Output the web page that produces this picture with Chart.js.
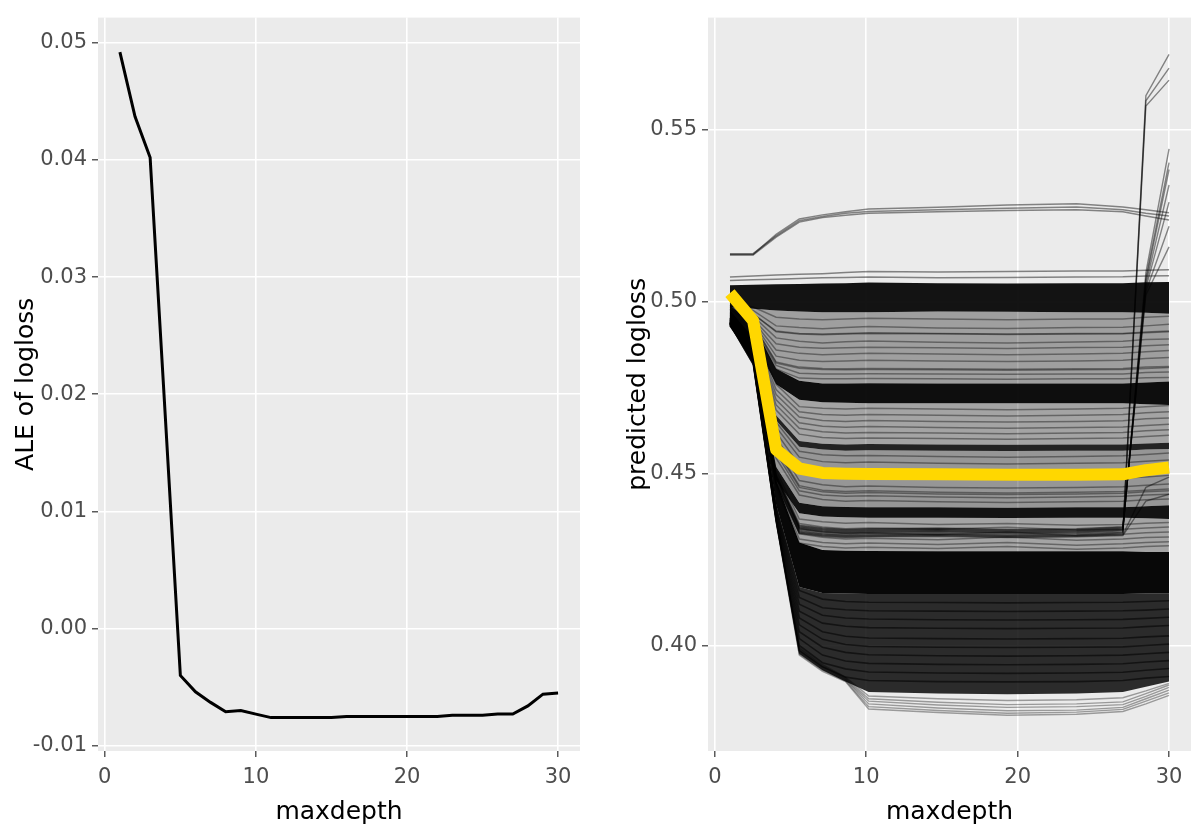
<!DOCTYPE html>
<html>
<head>
<meta charset="utf-8">
<script src="https://cdn.jsdelivr.net/npm/chart.js@4.4.1/dist/chart.umd.min.js"></script>
<style>
  html, body { margin: 0; padding: 0; background: #ffffff; }
  #wrap { position: relative; width: 1191px; height: 827px; }
  canvas { position: absolute; top: 0; }
  #aleChart { left: 0; }
  #iceChart { left: 590px; }
</style>
</head>
<body>
<div id="wrap">
  <canvas id="aleChart" width="590" height="827"></canvas>
  <canvas id="iceChart" width="601" height="827"></canvas>
</div>
<script>
// ALE panel (left)
const aleX = [1, 2, 3, 4, 5, 6, 7, 8, 9, 10, 11, 12, 13, 14, 15, 16, 17, 18, 19, 20, 21, 22, 23, 24, 25, 26, 27, 28, 29, 30];
const aleY = [0.0492, 0.0437, 0.0402, 0.0182, -0.0040, -0.0054, -0.0063, -0.0071, -0.0070, -0.0073,
              -0.0076, -0.0076, -0.0076, -0.0076, -0.0076, -0.0075, -0.0075, -0.0075, -0.0075, -0.0075,
              -0.0075, -0.0075, -0.0074, -0.0074, -0.0074, -0.0073, -0.0073, -0.0066, -0.0056, -0.0055];
const aleXTicks = [0, 10, 20, 30];
const aleYTicks = [-0.01, 0.00, 0.01, 0.02, 0.03, 0.04, 0.05];

// ICE panel (right): grid of maxdepth values
const iceX = [1, 2.53, 4.05, 5.58, 7.11, 8.63, 10.16, 14.74, 19.32, 23.89, 26.95, 28.47, 30];
const iceXTicks = [0, 10, 20, 30];
const iceYTicks = [0.40, 0.45, 0.50, 0.55];

// average curve (yellow)
const iceMean = [0.5025, 0.4945, 0.4570, 0.4515, 0.4502, 0.4500, 0.4499, 0.4498, 0.4497, 0.4497, 0.4498, 0.4510, 0.4518];

// dense black bands: upper and lower edge of each bundle of curves
const bandAUpper = [0.5048, 0.5050, 0.5051, 0.5052, 0.5053, 0.5054, 0.5056, 0.5054, 0.5053, 0.5054, 0.5054, 0.5057, 0.5058];
const bandALower = [0.4985, 0.4980, 0.4975, 0.4972, 0.4970, 0.4970, 0.4970, 0.4972, 0.4971, 0.4970, 0.4970, 0.4968, 0.4965];
const bandBUpper = [0.4990, 0.4935, 0.4805, 0.4770, 0.4762, 0.4762, 0.4763, 0.4762, 0.4762, 0.4762, 0.4762, 0.4765, 0.4768];
const bandBLower = [0.4960, 0.4890, 0.4760, 0.4715, 0.4708, 0.4706, 0.4705, 0.4705, 0.4705, 0.4705, 0.4705, 0.4702, 0.4700];
const bandCUpper = [0.4960, 0.4890, 0.4670, 0.4595, 0.4587, 0.4585, 0.4586, 0.4585, 0.4584, 0.4585, 0.4585, 0.4588, 0.4590];
const bandCLower = [0.4955, 0.4882, 0.4655, 0.4578, 0.4570, 0.4567, 0.4568, 0.4567, 0.4566, 0.4567, 0.4567, 0.4570, 0.4572];
const bandDUpper = [0.4970, 0.4870, 0.4520, 0.4415, 0.4405, 0.4403, 0.4402, 0.4402, 0.4401, 0.4402, 0.4402, 0.4405, 0.4408];
const bandDLower = [0.4940, 0.4840, 0.4480, 0.4385, 0.4375, 0.4373, 0.4372, 0.4372, 0.4371, 0.4372, 0.4372, 0.4370, 0.4368];
const bandEUpper = [0.4975, 0.4895, 0.4480, 0.4300, 0.4278, 0.4276, 0.4275, 0.4274, 0.4274, 0.4274, 0.4274, 0.4272, 0.4272];
const bandEMid   = [0.4955, 0.4860, 0.4410, 0.4170, 0.4153, 0.4151, 0.4150, 0.4150, 0.4150, 0.4150, 0.4150, 0.4151, 0.4152];
const bandELower = [0.4930, 0.4815, 0.4355, 0.3975, 0.3928, 0.3895, 0.3865, 0.3860, 0.3858, 0.3860, 0.3865, 0.3880, 0.3895];

// outlying curves at the top
const iceTopLines = [
  [0.5138, 0.5138, 0.5196, 0.5241, 0.5253, 0.5262, 0.5270, 0.5275, 0.5282, 0.5285, 0.5276, 0.5268, 0.5259],
  [0.5136, 0.5136, 0.5188, 0.5232, 0.5245, 0.5252, 0.5258, 0.5262, 0.5266, 0.5268, 0.5262, 0.5250, 0.5238],
  [0.5140, 0.5140, 0.5192, 0.5236, 0.5248, 0.5258, 0.5263, 0.5268, 0.5272, 0.5276, 0.5268, 0.5258, 0.5250],
  [0.5072, 0.5075, 0.5078, 0.5080, 0.5082, 0.5085, 0.5088, 0.5087, 0.5088, 0.5090, 0.5090, 0.5092, 0.5093],
  [0.5062, 0.5064, 0.5066, 0.5068, 0.5070, 0.5071, 0.5072, 0.5070, 0.5071, 0.5072, 0.5073, 0.5075, 0.5076]
];

// single translucent curves between the bands
const iceGrayLines = [
  [0.5000, 0.4985, 0.4955, 0.4950, 0.4948, 0.4950, 0.4952, 0.4950, 0.4948, 0.4950, 0.4950, 0.4955, 0.4958],
  [0.4995, 0.4975, 0.4930, 0.4925, 0.4922, 0.4925, 0.4928, 0.4924, 0.4922, 0.4925, 0.4926, 0.4930, 0.4935],
  [0.4990, 0.4965, 0.4915, 0.4908, 0.4906, 0.4908, 0.4910, 0.4908, 0.4906, 0.4908, 0.4908, 0.4912, 0.4915],
  [0.4990, 0.4965, 0.4913, 0.4906, 0.4904, 0.4906, 0.4908, 0.4907, 0.4905, 0.4906, 0.4907, 0.4910, 0.4913],
  [0.4988, 0.4958, 0.4895, 0.4885, 0.4880, 0.4884, 0.4886, 0.4882, 0.4880, 0.4883, 0.4885, 0.4890, 0.4892],
  [0.4985, 0.4950, 0.4878, 0.4868, 0.4865, 0.4866, 0.4868, 0.4866, 0.4864, 0.4867, 0.4868, 0.4872, 0.4875],
  [0.4983, 0.4945, 0.4860, 0.4850, 0.4846, 0.4848, 0.4850, 0.4848, 0.4846, 0.4848, 0.4850, 0.4855, 0.4858],
  [0.4980, 0.4940, 0.4842, 0.4830, 0.4826, 0.4828, 0.4830, 0.4828, 0.4826, 0.4828, 0.4830, 0.4835, 0.4838],
  [0.4978, 0.4935, 0.4825, 0.4810, 0.4806, 0.4805, 0.4806, 0.4805, 0.4804, 0.4805, 0.4806, 0.4810, 0.4812],
  [0.4978, 0.4934, 0.4822, 0.4807, 0.4803, 0.4802, 0.4803, 0.4802, 0.4801, 0.4802, 0.4803, 0.4806, 0.4809],
  [0.4975, 0.4930, 0.4815, 0.4792, 0.4790, 0.4790, 0.4791, 0.4790, 0.4789, 0.4790, 0.4790, 0.4794, 0.4796],
  [0.4972, 0.4925, 0.4805, 0.4778, 0.4776, 0.4776, 0.4777, 0.4776, 0.4775, 0.4776, 0.4776, 0.4779, 0.4780],
  [0.4970, 0.4920, 0.4760, 0.4695, 0.4690, 0.4688, 0.4690, 0.4688, 0.4686, 0.4688, 0.4690, 0.4695, 0.4698],
  [0.4968, 0.4915, 0.4745, 0.4680, 0.4672, 0.4670, 0.4672, 0.4670, 0.4668, 0.4670, 0.4672, 0.4677, 0.4680],
  [0.4966, 0.4910, 0.4730, 0.4665, 0.4655, 0.4652, 0.4655, 0.4652, 0.4650, 0.4652, 0.4654, 0.4660, 0.4662],
  [0.4964, 0.4905, 0.4715, 0.4648, 0.4638, 0.4635, 0.4637, 0.4634, 0.4632, 0.4634, 0.4636, 0.4640, 0.4644],
  [0.4962, 0.4900, 0.4700, 0.4632, 0.4622, 0.4618, 0.4620, 0.4618, 0.4616, 0.4618, 0.4620, 0.4625, 0.4628],
  [0.4960, 0.4895, 0.4685, 0.4615, 0.4605, 0.4602, 0.4604, 0.4602, 0.4600, 0.4602, 0.4604, 0.4608, 0.4612],
  [0.4958, 0.4885, 0.4650, 0.4565, 0.4555, 0.4552, 0.4553, 0.4550, 0.4548, 0.4550, 0.4552, 0.4556, 0.4560],
  [0.4955, 0.4880, 0.4635, 0.4548, 0.4535, 0.4532, 0.4534, 0.4530, 0.4528, 0.4530, 0.4532, 0.4536, 0.4540],
  [0.4952, 0.4875, 0.4620, 0.4525, 0.4512, 0.4508, 0.4510, 0.4506, 0.4504, 0.4506, 0.4508, 0.4512, 0.4515],
  [0.4950, 0.4870, 0.4605, 0.4502, 0.4490, 0.4486, 0.4488, 0.4485, 0.4483, 0.4485, 0.4487, 0.4490, 0.4495],
  [0.4948, 0.4865, 0.4590, 0.4480, 0.4468, 0.4462, 0.4464, 0.4460, 0.4458, 0.4460, 0.4462, 0.4466, 0.4470],
  [0.4946, 0.4862, 0.4575, 0.4465, 0.4452, 0.4448, 0.4450, 0.4446, 0.4444, 0.4446, 0.4448, 0.4452, 0.4455],
  [0.4945, 0.4860, 0.4570, 0.4460, 0.4447, 0.4443, 0.4445, 0.4441, 0.4439, 0.4441, 0.4443, 0.4447, 0.4450],
  [0.4944, 0.4858, 0.4560, 0.4450, 0.4438, 0.4434, 0.4436, 0.4432, 0.4430, 0.4432, 0.4434, 0.4438, 0.4440],
  [0.4942, 0.4855, 0.4545, 0.4438, 0.4425, 0.4420, 0.4422, 0.4418, 0.4416, 0.4418, 0.4420, 0.4424, 0.4426],
  [0.4940, 0.4850, 0.4510, 0.4368, 0.4360, 0.4356, 0.4358, 0.4352, 0.4355, 0.4350, 0.4352, 0.4356, 0.4358],
  [0.4938, 0.4846, 0.4500, 0.4355, 0.4345, 0.4340, 0.4342, 0.4338, 0.4344, 0.4336, 0.4338, 0.4342, 0.4345],
  [0.4936, 0.4842, 0.4490, 0.4340, 0.4330, 0.4326, 0.4328, 0.4322, 0.4330, 0.4320, 0.4324, 0.4328, 0.4330],
  [0.4934, 0.4838, 0.4480, 0.4325, 0.4315, 0.4310, 0.4312, 0.4308, 0.4316, 0.4306, 0.4310, 0.4314, 0.4316],
  [0.4932, 0.4834, 0.4470, 0.4310, 0.4300, 0.4296, 0.4298, 0.4294, 0.4300, 0.4292, 0.4296, 0.4300, 0.4302],
  [0.4930, 0.4830, 0.4460, 0.4298, 0.4288, 0.4284, 0.4286, 0.4282, 0.4288, 0.4280, 0.4284, 0.4288, 0.4290]
];

// curves that jump up at the right end
const iceJumpLines = [
  [0.4932, 0.4836, 0.4475, 0.4330, 0.4322, 0.4318, 0.4320, 0.4322, 0.4318, 0.4320, 0.4325, 0.5600, 0.5720],
  [0.4934, 0.4838, 0.4480, 0.4335, 0.4326, 0.4322, 0.4325, 0.4326, 0.4322, 0.4325, 0.4330, 0.5585, 0.5680],
  [0.4933, 0.4837, 0.4478, 0.4332, 0.4324, 0.4320, 0.4322, 0.4324, 0.4320, 0.4322, 0.4328, 0.5570, 0.5645],
  [0.4936, 0.4840, 0.4485, 0.4338, 0.4330, 0.4326, 0.4328, 0.4330, 0.4326, 0.4328, 0.4334, 0.5085, 0.5445],
  [0.4936, 0.4841, 0.4487, 0.4340, 0.4332, 0.4328, 0.4330, 0.4332, 0.4328, 0.4330, 0.4336, 0.5070, 0.5405],
  [0.4937, 0.4842, 0.4489, 0.4342, 0.4334, 0.4330, 0.4332, 0.4334, 0.4330, 0.4332, 0.4338, 0.5060, 0.5385],
  [0.4938, 0.4843, 0.4491, 0.4344, 0.4336, 0.4332, 0.4334, 0.4336, 0.4332, 0.4334, 0.4340, 0.5050, 0.5340],
  [0.4938, 0.4844, 0.4493, 0.4346, 0.4338, 0.4334, 0.4336, 0.4338, 0.4334, 0.4336, 0.4342, 0.5040, 0.5290],
  [0.4939, 0.4845, 0.4495, 0.4348, 0.4340, 0.4336, 0.4338, 0.4340, 0.4336, 0.4338, 0.4344, 0.5030, 0.5220],
  [0.4940, 0.4846, 0.4497, 0.4350, 0.4342, 0.4338, 0.4340, 0.4342, 0.4338, 0.4340, 0.4346, 0.5020, 0.5160],
  [0.4931, 0.4835, 0.4472, 0.4328, 0.4320, 0.4316, 0.4318, 0.4320, 0.4316, 0.4318, 0.4322, 0.4460, 0.4490],
  [0.4930, 0.4834, 0.4470, 0.4326, 0.4318, 0.4314, 0.4316, 0.4318, 0.4314, 0.4316, 0.4320, 0.4420, 0.4440]
];

// darker streaks inside the big lower band
const iceDarkLines = [
  [0.4954, 0.4858, 0.4405, 0.4160, 0.4135, 0.4128, 0.4126, 0.4125, 0.4124, 0.4125, 0.4126, 0.4128, 0.4130],
  [0.4952, 0.4855, 0.4400, 0.4140, 0.4110, 0.4104, 0.4101, 0.4100, 0.4099, 0.4100, 0.4101, 0.4103, 0.4106],
  [0.4950, 0.4852, 0.4395, 0.4120, 0.4088, 0.4080, 0.4077, 0.4075, 0.4074, 0.4075, 0.4076, 0.4079, 0.4082],
  [0.4948, 0.4848, 0.4390, 0.4100, 0.4065, 0.4056, 0.4052, 0.4050, 0.4049, 0.4050, 0.4051, 0.4055, 0.4058],
  [0.4946, 0.4844, 0.4385, 0.4080, 0.4040, 0.4027, 0.4022, 0.4020, 0.4019, 0.4020, 0.4021, 0.4025, 0.4028],
  [0.4944, 0.4840, 0.4380, 0.4060, 0.4018, 0.4003, 0.3997, 0.3995, 0.3994, 0.3995, 0.3996, 0.4000, 0.4004],
  [0.4942, 0.4836, 0.4375, 0.4040, 0.3995, 0.3980, 0.3973, 0.3970, 0.3969, 0.3970, 0.3972, 0.3976, 0.3980],
  [0.4940, 0.4832, 0.4370, 0.4020, 0.3972, 0.3955, 0.3948, 0.3945, 0.3944, 0.3945, 0.3947, 0.3952, 0.3956],
  [0.4938, 0.4828, 0.4365, 0.4000, 0.3950, 0.3932, 0.3923, 0.3920, 0.3919, 0.3920, 0.3922, 0.3928, 0.3933],
  [0.4936, 0.4824, 0.4362, 0.3985, 0.3938, 0.3908, 0.3898, 0.3895, 0.3894, 0.3895, 0.3898, 0.3905, 0.3910]
];

// lowest curves, below the band
const iceBottomLines = [
  [0.4935, 0.4818, 0.4360, 0.3972, 0.3925, 0.3895, 0.3815, 0.3805, 0.3797, 0.3800, 0.3808, 0.3830, 0.3855],
  [0.4936, 0.4819, 0.4362, 0.3975, 0.3928, 0.3897, 0.3822, 0.3811, 0.3803, 0.3806, 0.3814, 0.3838, 0.3862],
  [0.4938, 0.4822, 0.4365, 0.3980, 0.3932, 0.3900, 0.3830, 0.3818, 0.3810, 0.3812, 0.3820, 0.3845, 0.3870],
  [0.4939, 0.4823, 0.4367, 0.3985, 0.3936, 0.3902, 0.3838, 0.3827, 0.3820, 0.3822, 0.3828, 0.3852, 0.3878],
  [0.4940, 0.4825, 0.4370, 0.3990, 0.3940, 0.3905, 0.3845, 0.3835, 0.3828, 0.3830, 0.3836, 0.3860, 0.3885],
  [0.4941, 0.4826, 0.4372, 0.3994, 0.3944, 0.3908, 0.3853, 0.3845, 0.3840, 0.3842, 0.3848, 0.3868, 0.3890]
];

// ---------- helpers ----------
const FONT = "'DejaVu Sans', Verdana, sans-serif";

function pts(xs, ys) {
    return xs.map((x, i) => ({ x: x, y: ys[i] }));
}

// grey ggplot-like panel
const panelBg = {
    id: 'panelBg',
    beforeDraw(chart) {
        const { ctx, chartArea: a } = chart;
        ctx.save();
        ctx.fillStyle = '#EBEBEB';
        ctx.fillRect(a.left, a.top, a.right - a.left, a.bottom - a.top);
        ctx.restore();
    }
};

function axis(opts) {
    return {
        type: 'linear',
        min: opts.min,
        max: opts.max,
        afterBuildTicks: s => { s.ticks = opts.ticks.map(v => ({ value: v })); },
        afterFit: s => {
            if (opts.width) s.width = opts.width;
            if (opts.height) s.height = opts.height;
        },
        border: { display: false },
        grid: {
            color: '#FFFFFF',
            lineWidth: 1.6,
            tickColor: '#333333',
            tickLength: 6,
            tickWidth: 1.2
        },
        ticks: {
            color: '#4D4D4D',
            font: { family: FONT, size: 21 },
            padding: opts.tickPad,
            maxRotation: 0,
            callback: opts.fmt
        },
        title: {
            display: true,
            text: opts.title,
            color: '#000000',
            font: { family: FONT, size: 25 },
            padding: opts.titlePad
        }
    };
}

// ---------- ALE chart ----------
new Chart(document.getElementById('aleChart'), {
    type: 'line',
    data: {
        datasets: [{
            data: pts(aleX, aleY),
            borderColor: '#000000',
            borderWidth: 3,
            pointRadius: 0,
            tension: 0,
            fill: false
        }]
    },
    options: {
        responsive: false,
        animation: false,
        layout: { padding: { top: 7, right: 10, left: 0, bottom: 0 } },
        plugins: { legend: { display: false }, tooltip: { enabled: false } },
        scales: {
            x: axis({ min: -0.45, max: 31.45, ticks: aleXTicks, height: 76, title: 'maxdepth', tickPad: 8,
                      titlePad: { top: 0, bottom: 0 }, fmt: v => String(v) }),
            y: axis({ min: -0.01045, max: 0.05215, ticks: aleYTicks, width: 98, title: 'ALE of logloss', tickPad: 5,
                      titlePad: { top: 11, bottom: 0 }, fmt: v => v.toFixed(2) })
        }
    },
    plugins: [panelBg]
});

// ---------- ICE chart ----------
const iceSets = [];

// mean curve first so it is drawn on top
iceSets.push({
    data: pts(iceX, iceMean),
    borderColor: '#FFD700',
    borderWidth: 12,
    borderJoinStyle: 'round',
    pointRadius: 0,
    fill: false
});

function addBand(upper, lower, color) {
    iceSets.push({ data: pts(iceX, upper), borderWidth: 0, pointRadius: 0, fill: false });
    iceSets.push({ data: pts(iceX, lower), borderWidth: 0, pointRadius: 0, fill: '-1', backgroundColor: color });
}
// dense bundles
addBand(bandAUpper, bandALower, 'rgba(0,0,0,0.92)');
addBand(bandBUpper, bandBLower, 'rgba(0,0,0,0.94)');
addBand(bandCUpper, bandCLower, 'rgba(0,0,0,0.85)');
addBand(bandDUpper, bandDLower, 'rgba(0,0,0,0.92)');
addBand(bandEUpper, bandEMid, 'rgba(0,0,0,0.97)');
addBand(bandEMid, bandELower, 'rgba(0,0,0,0.82)');
// sparser curves between the bundles
addBand(bandALower, bandBUpper, 'rgba(0,0,0,0.32)');
addBand(bandBLower, bandCUpper, 'rgba(0,0,0,0.3)');
addBand(bandCLower, bandDUpper, 'rgba(0,0,0,0.36)');
addBand(bandDLower, bandEUpper, 'rgba(0,0,0,0.3)');

function addLines(list, color, width) {
    list.forEach(ys => {
        iceSets.push({
            data: pts(iceX, ys),
            borderColor: color,
            borderWidth: width,
            pointRadius: 0,
            fill: false
        });
    });
}
addLines(iceTopLines, 'rgba(0,0,0,0.45)', 1.5);
addLines(iceGrayLines, 'rgba(0,0,0,0.38)', 1.5);
addLines(iceJumpLines, 'rgba(0,0,0,0.45)', 1.4);
addLines(iceDarkLines, 'rgba(0,0,0,0.55)', 1.6);
addLines(iceBottomLines, 'rgba(0,0,0,0.35)', 1.4);

new Chart(document.getElementById('iceChart'), {
    type: 'line',
    data: { datasets: iceSets },
    options: {
        responsive: false,
        animation: false,
        layout: { padding: { top: 7, right: 0, left: 0, bottom: 0 } },
        plugins: { legend: { display: false }, tooltip: { enabled: false } },
        scales: {
            x: axis({ min: -0.45, max: 31.45, ticks: iceXTicks, height: 76, title: 'maxdepth', tickPad: 8,
                      titlePad: { top: 0, bottom: 0 }, fmt: v => String(v) }),
            y: axis({ min: 0.3693, max: 0.5827, ticks: iceYTicks, width: 118, title: 'predicted logloss', tickPad: 5,
                      titlePad: { top: 33, bottom: 0 }, fmt: v => v.toFixed(2) })
        }
    },
    plugins: [panelBg]
});
</script>
</body>
</html>
